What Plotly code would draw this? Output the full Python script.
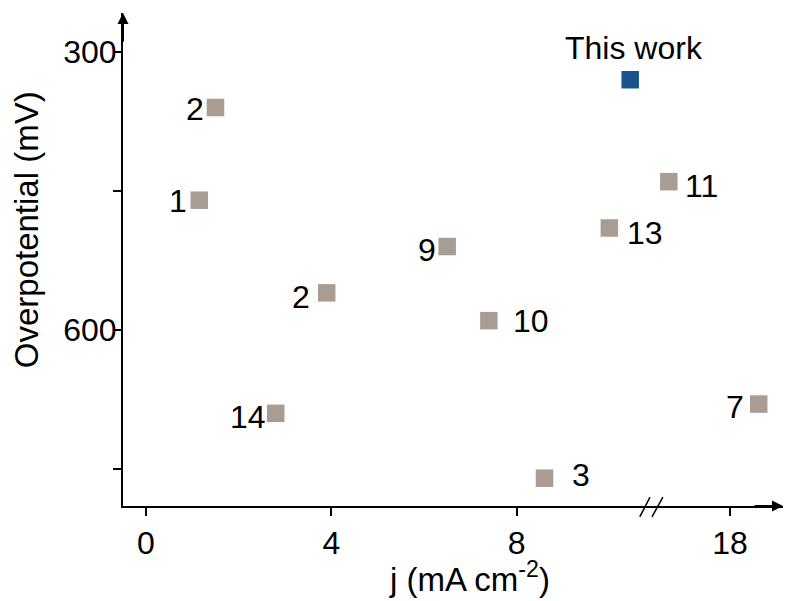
import plotly.graph_objects as go

# Literature values: current density j (mA cm^-2) vs overpotential (mV)
ref_labels_a = ["2", "1", "9", "2", "10", "14", "3", "13"]
j_a = [1.5, 1.15, 6.5, 3.9, 7.4, 2.8, 8.6, 10.0]
eta_a = [360, 460, 510, 560, 590, 690, 760, 490]

# Values beyond the axis break
ref_labels_b = ["11", "7"]
j_b = [16.68, 18.62]
eta_b = [440, 680]

# Present catalyst
this_label = ["This work"]
j_this = [10.45]
eta_this = [330]

x_ticks_a = [0, 4, 8]
x_ticks_b = [18]
y_ticks = [300, 450, 600, 750]
y_tick_text = ["300", "", "600", ""]

# label placement: (anchor, xshift px, yshift px)
place_a = [("right", -9, -1), ("right", -10, -1), ("right", -9, -3), ("right", -15, -4),
           ("left", 22, 0), ("right", -8, -4), ("left", 26, 3), ("left", 16, -5)]
place_b = [("left", 14, -4), ("right", -13, -3)]

GREY = "#a99c93"
BLUE = "#18528f"
FONT = "Liberation Sans, Arial, sans-serif"
FS = 32

fig = go.Figure()
fig.add_trace(go.Scatter(x=j_a, y=eta_a, mode="markers", xaxis="x", yaxis="y",
                         marker=dict(symbol="square", size=17.5, color=GREY),
                         showlegend=False))
fig.add_trace(go.Scatter(x=j_this, y=eta_this, mode="markers", xaxis="x", yaxis="y",
                         marker=dict(symbol="square", size=17.5, color=BLUE),
                         showlegend=False))
fig.add_trace(go.Scatter(x=j_b, y=eta_b, mode="markers", xaxis="x2", yaxis="y",
                         marker=dict(symbol="square", size=17.5, color=GREY),
                         showlegend=False))

ann = []
for lab, xv, yv, (anc, dx, dy) in zip(ref_labels_a, j_a, eta_a, place_a):
    ann.append(dict(x=xv, y=yv, xref="x", yref="y", text=lab, showarrow=False,
                    xanchor=anc, yanchor="middle", xshift=dx, yshift=dy,
                    font=dict(size=FS, color="black", family=FONT)))
for lab, xv, yv, (anc, dx, dy) in zip(ref_labels_b, j_b, eta_b, place_b):
    ann.append(dict(x=xv, y=yv, xref="x2", yref="y", text=lab, showarrow=False,
                    xanchor=anc, yanchor="middle", xshift=dx, yshift=dy,
                    font=dict(size=FS, color="black", family=FONT)))
ann.append(dict(x=j_this[0], y=eta_this[0], xref="x", yref="y", text=this_label[0],
                showarrow=False, xanchor="center", yanchor="middle", xshift=4, yshift=32,
                font=dict(size=FS, color="black", family=FONT)))

# axis titles
ann.append(dict(x=0.525, y=-0.145, xref="paper", yref="paper", text="j (mA cm<sup>-2</sup>)",
                showarrow=False, xanchor="center", yanchor="middle",
                font=dict(size=33, color="black", family=FONT)))
ann.append(dict(x=-0.145, y=0.56, xref="paper", yref="paper", text="Overpotential (mV)",
                showarrow=False, xanchor="center", yanchor="middle", textangle=-90,
                font=dict(size=33, color="black", family=FONT)))

# arrow heads on both axes
ann.append(dict(x=1, y=0, xref="paper", yref="paper", ax=-30, ay=0, text="",
                showarrow=True, arrowhead=2, arrowsize=1.1, arrowwidth=2,
                arrowcolor="black", standoff=0))
ann.append(dict(x=0, y=1, xref="paper", yref="paper", ax=0, ay=30, text="",
                showarrow=True, arrowhead=2, arrowsize=1.1, arrowwidth=2,
                arrowcolor="black", standoff=0))

BRK = 0.8015
shapes = [
    dict(type="line", xref="paper", yref="paper", x0=BRK - 0.0185, x1=BRK - 0.003,
         y0=-0.022, y1=0.018, line=dict(color="black", width=1.5)),
    dict(type="line", xref="paper", yref="paper", x0=BRK + 0.0, x1=BRK + 0.0165,
         y0=-0.022, y1=0.018, line=dict(color="black", width=1.5)),
]

axis_common = dict(showline=True, linecolor="black", linewidth=2, ticks="outside",
                   ticklen=8, tickwidth=2, tickcolor="black", showgrid=False,
                   zeroline=False, tickfont=dict(size=FS, color="black", family=FONT))

fig.update_layout(
    width=785, height=601,
    margin=dict(l=123, r=2, t=13, b=95),
    paper_bgcolor="white", plot_bgcolor="white",
    xaxis=dict(domain=[0, BRK], range=[-0.496, 10.92], tickvals=x_ticks_a,
               anchor="y", **axis_common),
    xaxis2=dict(domain=[BRK, 1], range=[16.317, 19.144], tickvals=x_ticks_b,
                anchor="y", **axis_common),
    yaxis=dict(range=[790, 258], tickvals=y_ticks, ticktext=y_tick_text,
               anchor="x", ticklabelstandoff=-10, **axis_common),
    annotations=ann,
    shapes=shapes,
)

fig.write_html("out.html")
